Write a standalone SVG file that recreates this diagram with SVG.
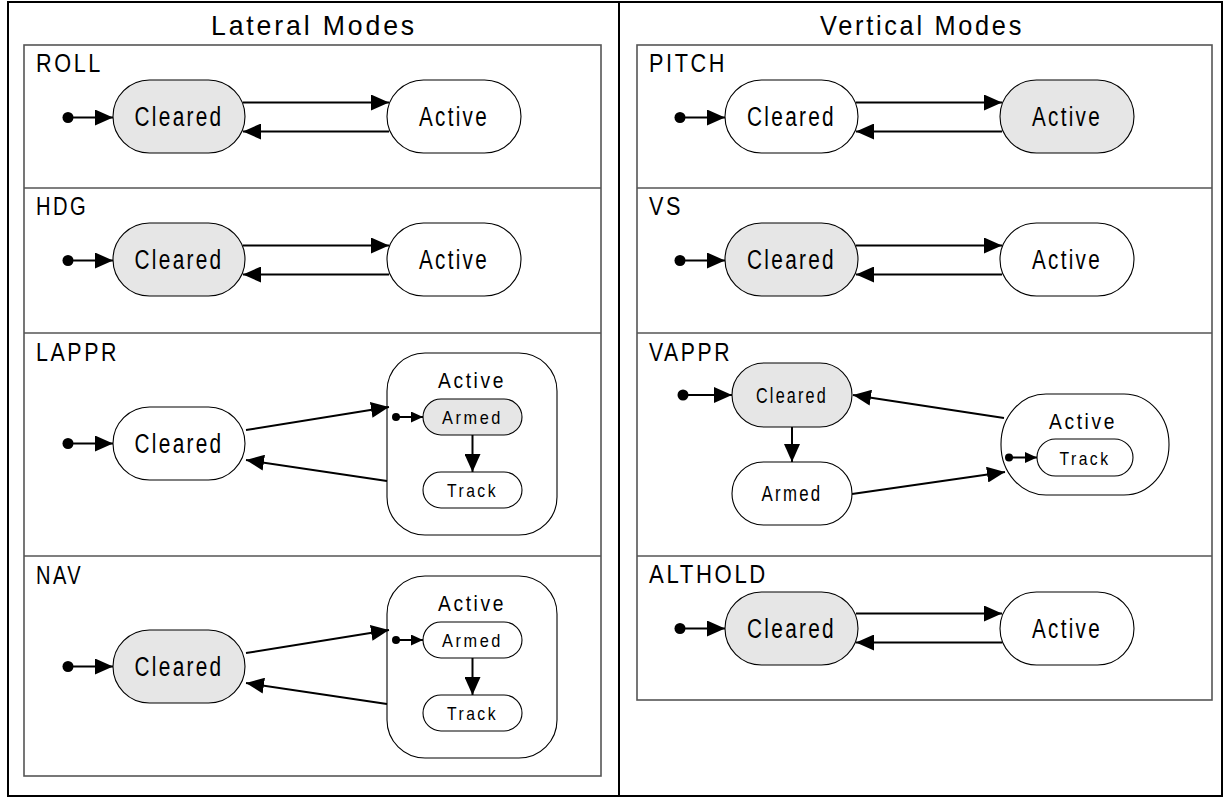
<svg xmlns="http://www.w3.org/2000/svg" width="1231" height="797" viewBox="0 0 1231 797">
<style>
text { font-family: "Liberation Sans", Arial, sans-serif; fill: #000; letter-spacing: 3px; }
.title { font-size: 28px; text-anchor: middle; }
.lbl { font-size: 25px; }
.big { font-size: 27px; text-anchor: middle; }
.mid { font-size: 22px; text-anchor: middle; }
.sm { font-size: 19px; text-anchor: middle; }
.frame { fill: none; stroke: #000; stroke-width: 2; }
.box { fill: none; stroke: #555; stroke-width: 1.6; }
.st { fill: #fff; stroke: #000; stroke-width: 1.1; }
.on { fill: #e6e6e6; stroke: #000; stroke-width: 1.1; }
.c { fill: none; stroke: #000; stroke-width: 2; marker-end: url(#ah); }
.ci { fill: none; stroke: #000; stroke-width: 2; marker-end: url(#ahs); }
.dot { fill: #000; }
</style>
<defs>
<marker id="ah" markerUnits="userSpaceOnUse" markerWidth="18" markerHeight="16" refX="18" refY="8" orient="auto"><path d="M0,0 L18,8 L0,16 Z" fill="#000"/></marker>
<marker id="ahs" markerUnits="userSpaceOnUse" markerWidth="12" markerHeight="11" refX="12" refY="5.5" orient="auto"><path d="M0,0 L12,5.5 L0,11 Z" fill="#000"/></marker>
</defs>
<rect width="1231" height="797" fill="#fff"/>
<g id="frame">
<rect class="frame" x="8" y="2" width="1214" height="794"/>
<line class="frame" x1="619" y1="2" x2="619" y2="796"/>
<text class="title" x="314" y="35" textLength="206" lengthAdjust="spacingAndGlyphs">Lateral Modes</text>
<text class="title" x="922" y="35" textLength="204" lengthAdjust="spacingAndGlyphs">Vertical Modes</text>
</g>
<g id="lateral-boxes">
<rect class="box" x="24" y="45" width="577" height="731"/>
<line class="box" x1="24" y1="188" x2="601" y2="188"/>
<line class="box" x1="24" y1="333" x2="601" y2="333"/>
<line class="box" x1="24" y1="556" x2="601" y2="556"/>
</g>
<g id="vertical-boxes">
<rect class="box" x="637" y="45" width="575" height="655"/>
<line class="box" x1="637" y1="188" x2="1212" y2="188"/>
<line class="box" x1="637" y1="333" x2="1212" y2="333"/>
<line class="box" x1="637" y1="556" x2="1212" y2="556"/>
</g>

<!-- ROLL -->
<g id="roll">
<text class="lbl" x="36" y="72" textLength="67" lengthAdjust="spacingAndGlyphs">ROLL</text>
<g id="roll-cleared"><rect class="on" x="113" y="80" width="132" height="73" rx="36.5"/><text class="big" x="179" y="126" textLength="89" lengthAdjust="spacingAndGlyphs">Cleared</text></g>
<g id="roll-active"><rect class="st" x="387" y="80" width="134" height="73" rx="36.5"/><text class="big" x="454" y="126" textLength="70" lengthAdjust="spacingAndGlyphs">Active</text></g>
<circle class="dot" cx="68" cy="117.5" r="5.5"/>
</g>
<!-- HDG -->
<g id="hdg">
<text class="lbl" x="36" y="215" textLength="52" lengthAdjust="spacingAndGlyphs">HDG</text>
<g id="hdg-cleared"><rect class="on" x="113" y="223" width="132" height="73" rx="36.5"/><text class="big" x="179" y="269" textLength="89" lengthAdjust="spacingAndGlyphs">Cleared</text></g>
<g id="hdg-active"><rect class="st" x="387" y="223" width="134" height="73" rx="36.5"/><text class="big" x="454" y="269" textLength="70" lengthAdjust="spacingAndGlyphs">Active</text></g>
<circle class="dot" cx="68" cy="260.5" r="5.5"/>
</g>
<!-- LAPPR -->
<g id="lappr">
<text class="lbl" x="36" y="361" textLength="83" lengthAdjust="spacingAndGlyphs">LAPPR</text>
<g id="lappr-cleared"><rect class="st" x="113" y="407" width="132" height="73" rx="36.5"/><text class="big" x="179" y="453" textLength="89" lengthAdjust="spacingAndGlyphs">Cleared</text></g>
<g id="lappr-active"><rect class="st" x="387" y="353" width="170" height="182" rx="38"/><text class="mid" x="472" y="388" textLength="68" lengthAdjust="spacingAndGlyphs">Active</text>
<g id="lappr-armed"><rect class="on" x="423" y="399" width="99" height="36" rx="18"/><text class="sm" x="472.5" y="424" textLength="61" lengthAdjust="spacingAndGlyphs">Armed</text></g>
<g id="lappr-track"><rect class="st" x="423" y="472" width="99" height="36" rx="18"/><text class="sm" x="472.5" y="497" textLength="51" lengthAdjust="spacingAndGlyphs">Track</text></g>
<circle class="dot" cx="396" cy="417" r="4"/>
</g>
<circle class="dot" cx="68" cy="443.5" r="5.5"/>
</g>
<!-- NAV -->
<g id="nav">
<text class="lbl" x="36" y="584" textLength="47" lengthAdjust="spacingAndGlyphs">NAV</text>
<g id="nav-cleared"><rect class="on" x="113" y="630" width="132" height="73" rx="36.5"/><text class="big" x="179" y="676" textLength="89" lengthAdjust="spacingAndGlyphs">Cleared</text></g>
<g id="nav-active"><rect class="st" x="387" y="576" width="170" height="182" rx="38"/><text class="mid" x="472" y="611" textLength="68" lengthAdjust="spacingAndGlyphs">Active</text>
<g id="nav-armed"><rect class="st" x="423" y="622" width="99" height="36" rx="18"/><text class="sm" x="472.5" y="647" textLength="61" lengthAdjust="spacingAndGlyphs">Armed</text></g>
<g id="nav-track"><rect class="st" x="423" y="695" width="99" height="36" rx="18"/><text class="sm" x="472.5" y="720" textLength="51" lengthAdjust="spacingAndGlyphs">Track</text></g>
<circle class="dot" cx="396" cy="640" r="4"/>
</g>
<circle class="dot" cx="68" cy="666.5" r="5.5"/>
</g>

<!-- PITCH -->
<g id="pitch">
<text class="lbl" x="649" y="72" textLength="78" lengthAdjust="spacingAndGlyphs">PITCH</text>
<g id="pitch-cleared"><rect class="st" x="725" y="80" width="133" height="73" rx="36.5"/><text class="big" x="791.5" y="126" textLength="89" lengthAdjust="spacingAndGlyphs">Cleared</text></g>
<g id="pitch-active"><rect class="on" x="1000" y="80" width="134" height="73" rx="36.5"/><text class="big" x="1067" y="126" textLength="70" lengthAdjust="spacingAndGlyphs">Active</text></g>
<circle class="dot" cx="680" cy="117.5" r="5.5"/>
</g>
<!-- VS -->
<g id="vs">
<text class="lbl" x="649" y="215" textLength="34" lengthAdjust="spacingAndGlyphs">VS</text>
<g id="vs-cleared"><rect class="on" x="725" y="223" width="133" height="73" rx="36.5"/><text class="big" x="791.5" y="269" textLength="89" lengthAdjust="spacingAndGlyphs">Cleared</text></g>
<g id="vs-active"><rect class="st" x="1000" y="223" width="134" height="73" rx="36.5"/><text class="big" x="1067" y="269" textLength="70" lengthAdjust="spacingAndGlyphs">Active</text></g>
<circle class="dot" cx="680" cy="260.5" r="5.5"/>
</g>
<!-- VAPPR -->
<g id="vappr">
<text class="lbl" x="649" y="361" textLength="83" lengthAdjust="spacingAndGlyphs">VAPPR</text>
<g id="vappr-cleared"><rect class="on" x="732" y="363" width="120" height="64" rx="32"/><text class="mid" x="792" y="403" textLength="72" lengthAdjust="spacingAndGlyphs">Cleared</text></g>
<g id="vappr-armed"><rect class="st" x="732" y="462" width="120" height="63" rx="31.5"/><text class="mid" x="792" y="501" textLength="61" lengthAdjust="spacingAndGlyphs">Armed</text></g>
<g id="vappr-active"><rect class="st" x="1001" y="394" width="168" height="101" rx="45" ry="50"/><text class="mid" x="1083" y="429" textLength="68" lengthAdjust="spacingAndGlyphs">Active</text>
<g id="vappr-track"><rect class="st" x="1037" y="439" width="96" height="37" rx="18.5"/><text class="sm" x="1085" y="464.5" textLength="51" lengthAdjust="spacingAndGlyphs">Track</text></g>
<circle class="dot" cx="1009" cy="457.5" r="4"/>
</g>
<circle class="dot" cx="683" cy="395" r="5.5"/>
</g>
<!-- ALTHOLD -->
<g id="althold">
<text class="lbl" x="649" y="583" textLength="119" lengthAdjust="spacingAndGlyphs">ALTHOLD</text>
<g id="althold-cleared"><rect class="on" x="725" y="592" width="133" height="73" rx="36.5"/><text class="big" x="791.5" y="638" textLength="89" lengthAdjust="spacingAndGlyphs">Cleared</text></g>
<g id="althold-active"><rect class="st" x="1000" y="592" width="134" height="73" rx="36.5"/><text class="big" x="1067" y="638" textLength="70" lengthAdjust="spacingAndGlyphs">Active</text></g>
<circle class="dot" cx="680" cy="628.5" r="5.5"/>
</g>

<g id="connectors">
<!-- ROLL -->
<line class="c" x1="68" y1="117.5" x2="113" y2="117.5"/>
<line class="c" x1="243" y1="102.5" x2="389" y2="102.5"/>
<line class="c" x1="389" y1="131.5" x2="243" y2="131.5"/>
<!-- HDG -->
<line class="c" x1="68" y1="260.5" x2="113" y2="260.5"/>
<line class="c" x1="243" y1="245.5" x2="389" y2="245.5"/>
<line class="c" x1="389" y1="274.5" x2="243" y2="274.5"/>
<!-- LAPPR -->
<line class="c" x1="68" y1="443.5" x2="113" y2="443.5"/>
<line class="c" x1="246" y1="430" x2="389" y2="407"/>
<line class="c" x1="387" y1="481" x2="246" y2="460"/>
<line class="ci" x1="396" y1="417" x2="423" y2="417"/>
<line class="c" x1="472.5" y1="435" x2="472.5" y2="472"/>
<!-- NAV -->
<line class="c" x1="68" y1="666.5" x2="113" y2="666.5"/>
<line class="c" x1="246" y1="653" x2="389" y2="630"/>
<line class="c" x1="387" y1="704" x2="246" y2="683"/>
<line class="ci" x1="396" y1="640" x2="423" y2="640"/>
<line class="c" x1="472.5" y1="658" x2="472.5" y2="695"/>
<!-- PITCH -->
<line class="c" x1="680" y1="117.5" x2="725" y2="117.5"/>
<line class="c" x1="856" y1="102.5" x2="1002" y2="102.5"/>
<line class="c" x1="1002" y1="131.5" x2="856" y2="131.5"/>
<!-- VS -->
<line class="c" x1="680" y1="260.5" x2="725" y2="260.5"/>
<line class="c" x1="856" y1="245.5" x2="1002" y2="245.5"/>
<line class="c" x1="1002" y1="274.5" x2="856" y2="274.5"/>
<!-- VAPPR -->
<line class="c" x1="683" y1="395" x2="732" y2="395"/>
<line class="c" x1="792" y1="427" x2="792" y2="462"/>
<line class="c" x1="1004" y1="418" x2="853" y2="395"/>
<line class="c" x1="852" y1="494" x2="1005" y2="472"/>
<line class="ci" x1="1009" y1="457.5" x2="1037" y2="457.5"/>
<!-- ALTHOLD -->
<line class="c" x1="680" y1="628.5" x2="725" y2="628.5"/>
<line class="c" x1="856" y1="613.5" x2="1002" y2="613.5"/>
<line class="c" x1="1002" y1="642.5" x2="856" y2="642.5"/>
</g>
</svg>
